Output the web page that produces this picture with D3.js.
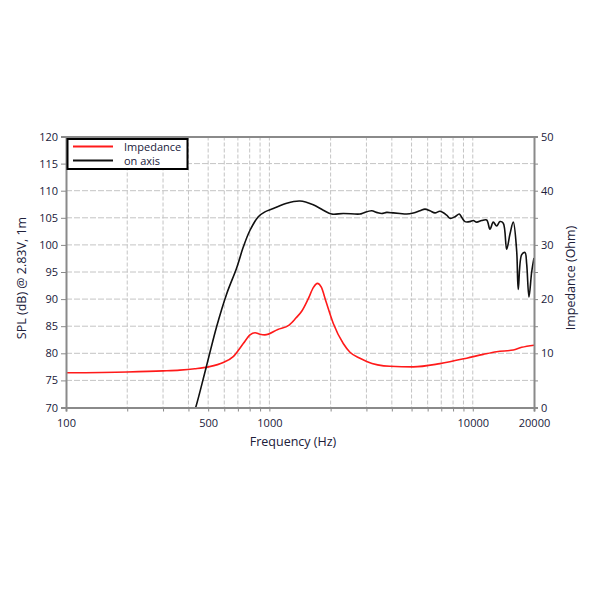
<!DOCTYPE html>
<html>
<head>
<meta charset="utf-8">
<script src="https://cdn.jsdelivr.net/npm/d3@7"></script>
<style>
  body { margin: 0; background: #fff; }
  svg { display: block; }
  text { font-family: "Open Sans", "Noto Sans", sans-serif; fill: #20203a; }
</style>
</head>
<body>
<svg id="chart" width="600" height="600"></svg>
<script>
// ---- data ----
const splFreq = [420, 434, 488, 551, 617, 691, 744, 803, 882, 951, 1045, 1217, 1414, 1643, 1841, 2025, 2308, 2788, 2895, 3184, 3370, 3566, 3773, 4067, 4386, 4732, 5100, 5500, 5821, 6160, 6520, 6898, 7441, 7726, 8175, 8581, 8819, 9155, 9688, 10058, 10452, 11060, 11706, 12148, 12610, 13104, 13604, 14125, 14678, 15235, 15817, 16436, 16737, 17398, 18059, 18408, 18893, 19480, 20000];
const splDb   = [68.5, 70, 77.3, 85.0, 91.0, 95.8, 99.6, 102.7, 105.2, 106.1, 106.7, 107.7, 108.1, 107.4, 106.4, 105.7, 105.8, 105.7, 105.9, 106.3, 106.0, 105.8, 106.0, 105.9, 105.8, 105.7, 105.9, 106.3, 106.6, 106.3, 105.9, 106.2, 105.5, 104.9, 105.2, 105.7, 105.1, 104.3, 104.3, 104.5, 104.2, 104.5, 104.6, 102.9, 104.2, 103.5, 104.3, 104.0, 99.2, 102.0, 104.2, 98.9, 91.8, 98.2, 98.6, 96.5, 90.4, 95.0, 97.6];

const impFreq = [100, 200, 300, 363, 430, 501, 593, 664, 744, 803, 850, 900, 950, 1100, 1250, 1350, 1450, 1550, 1650, 1720, 1800, 1900, 2062, 2308, 2490, 2788, 3009, 3917, 5100, 6898, 9333, 11258, 13104, 15817, 17398, 20000];
const impOhm  = [6.4, 6.55, 6.75, 6.9, 7.15, 7.5, 8.3, 9.4, 11.8, 13.4, 13.8, 13.5, 13.4, 14.4, 15.2, 16.5, 17.9, 20.0, 22.2, 22.9, 22.2, 19.5, 15.5, 11.8, 10.2, 9.1, 8.5, 7.6, 7.5, 8.1, 9.1, 9.8, 10.3, 10.6, 11.1, 11.5];

const xTickLabels = [100, 500, 1000, 10000, 20000];
const xGridFreqs = [200, 300, 400, 500, 600, 700, 800, 900, 1000, 2000, 3000, 4000, 5000, 6000, 7000, 8000, 9000, 10000];
const xTickMarks = [100, 200, 300, 400, 500, 600, 700, 800, 900, 1000, 2000, 3000, 4000, 5000, 6000, 7000, 8000, 9000, 10000, 20000];
const splTicks = [70, 75, 80, 85, 90, 95, 100, 105, 110, 115, 120];
const impTickLabels = [0, 10, 20, 30, 40, 50];
const impTickMarks = [0, 5, 10, 15, 20, 25, 30, 35, 40, 45, 50];
const legendLabels = ["Impedance", "on axis"];

// ---- layout ----
const L = 66, R = 534, T = 136.5, B = 407.5;
const svg = d3.select("#chart");

const x = d3.scaleLog().domain([100, 20000]).range([L, R]);
const yL = d3.scaleLinear().domain([70, 120]).range([B, T]);
const yR = d3.scaleLinear().domain([0, 50]).range([B, T]);

const gridColor = "#c4c4c4";
const axisColor = "#8a8a8a";

// grid
svg.append("g").selectAll("line").data(xGridFreqs).join("line")
  .attr("x1", d => x(d)).attr("x2", d => x(d))
  .attr("y1", T).attr("y2", B)
  .attr("stroke", gridColor).attr("stroke-width", 1).attr("stroke-dasharray", "4,2");
svg.append("g").selectAll("line").data(splTicks.slice(1, -1)).join("line")
  .attr("x1", L).attr("x2", R)
  .attr("y1", d => yL(d)).attr("y2", d => yL(d))
  .attr("stroke", gridColor).attr("stroke-width", 1).attr("stroke-dasharray", "6,2");

// clip
svg.append("defs").append("clipPath").attr("id", "plotclip")
  .append("rect").attr("x", L).attr("y", T).attr("width", R - L).attr("height", B - T);

// curves
const impLine = d3.line().x((d, i) => x(impFreq[i])).y(d => yR(d)).curve(d3.curveMonotoneX);
const splLine = d3.line().x((d, i) => x(splFreq[i])).y(d => yL(d)).curve(d3.curveCatmullRom.alpha(0.5));

const plot = svg.append("g").attr("clip-path", "url(#plotclip)");
plot.append("path").datum(impOhm).attr("d", impLine)
  .attr("fill", "none").attr("stroke", "#ff1a1a").attr("stroke-width", 1.6);
plot.append("path").datum(splDb).attr("d", splLine)
  .attr("fill", "none").attr("stroke", "#111").attr("stroke-width", 1.6);

// axes
const axL = svg.append("g").attr("transform", `translate(${L},0)`)
  .call(d3.axisLeft(yL).tickValues(splTicks).tickSize(5).tickPadding(3));
const axR = svg.append("g").attr("transform", `translate(${R},0)`)
  .call(d3.axisRight(yR).tickValues(impTickMarks).tickSize(4).tickPadding(3)
    .tickFormat(d => impTickLabels.includes(d) ? d : ""));
const axB = svg.append("g").attr("transform", `translate(0,${B})`)
  .call(d3.axisBottom(x).tickValues(xTickMarks).tickSize(4).tickPadding(8)
    .tickFormat(d => xTickLabels.includes(d) ? d : ""));
const axT = svg.append("g").attr("transform", `translate(0,${T})`)
  .call(d3.axisTop(x).tickValues([]).tickSize(0));

[axL, axR, axB, axT].forEach(a => {
  a.select(".domain").attr("stroke", axisColor).attr("stroke-width", 2);
  a.selectAll(".tick line").attr("stroke", axisColor).attr("stroke-width", 1);
  a.selectAll(".tick text").style("font-size", "11px").attr("fill", "#20203a")
    .style("font-family", '"Open Sans", "Noto Sans", sans-serif');
});

// axis titles
svg.append("text").attr("x", 293).attr("y", 446).attr("text-anchor", "middle")
  .style("font-size", "12.5px").text("Frequency (Hz)");
svg.append("text").attr("transform", "translate(26,278) rotate(-90)").attr("text-anchor", "middle")
  .style("font-size", "12.5px").text("SPL (dB) @ 2.83V, 1m");
svg.append("text").attr("transform", "translate(575,278) rotate(-90)").attr("text-anchor", "middle")
  .style("font-size", "12.5px").text("Impedance (Ohm)");

// legend
const lg = svg.append("g");
lg.append("rect").attr("x", 67.5).attr("y", 139).attr("width", 120).attr("height", 30)
  .attr("fill", "#fff").attr("stroke", "#000").attr("stroke-width", 2);
const legendColors = ["#ff1a1a", "#111"];
legendLabels.forEach((lab, i) => {
  const yy = 146.5 + i * 14;
  lg.append("line").attr("x1", 73).attr("x2", 113).attr("y1", yy).attr("y2", yy)
    .attr("stroke", legendColors[i]).attr("stroke-width", 2);
  lg.append("text").attr("x", 124).attr("y", yy + 4).style("font-size", "11px").text(lab);
});
</script>
</body>
</html>
